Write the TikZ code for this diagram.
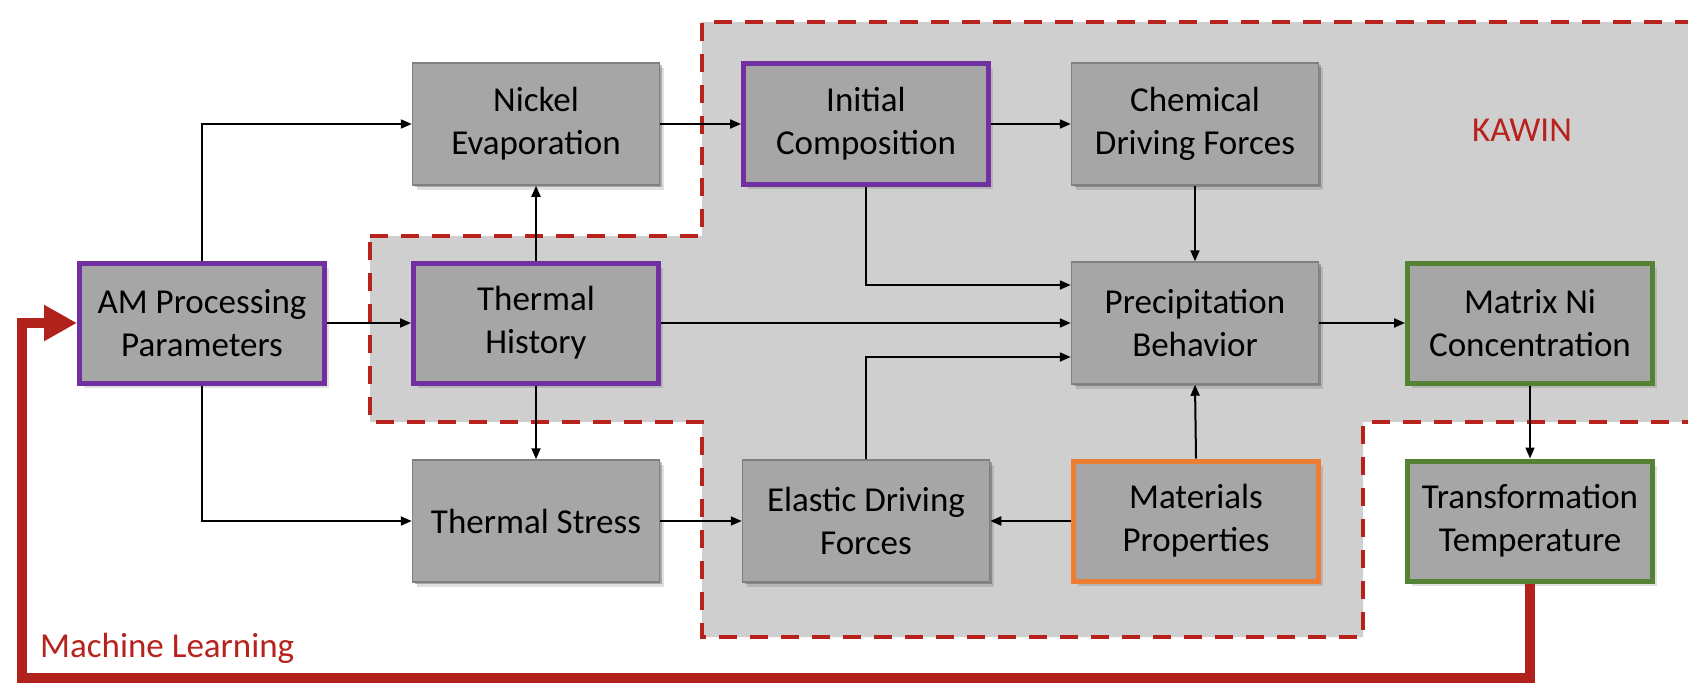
\documentclass[tikz,border=0pt]{standalone}
\usepackage{fontspec}
\setmainfont{Carlito}
\usetikzlibrary{arrows.meta,shadows}

\definecolor{boxgray}{RGB}{166,166,166}
\definecolor{boxedge}{RGB}{128,128,128}
\definecolor{zonegray}{RGB}{208,207,208}
\definecolor{kred}{RGB}{184,34,28}
\definecolor{mlred}{RGB}{178,34,28}
\definecolor{inpurple}{RGB}{112,48,160}
\definecolor{matorange}{RGB}{237,125,49}
\definecolor{outgreen}{RGB}{84,130,53}

\tikzset{
  softshadow/.style={
    drop shadow={shadow xshift=2pt,shadow yshift=-2pt,opacity=.25,fill=black},
    drop shadow={shadow xshift=4pt,shadow yshift=-5pt,opacity=.12,fill=black}},
  blk/.style={rectangle, fill=boxgray, draw=boxedge, line width=1.5pt,
    minimum width=247pt, minimum height=122pt, inner sep=0pt, align=center,
    font=\fontsize{35}{43}\selectfont, text=black, softshadow},
  keybox/.style={blk, line width=5pt, minimum width=245pt, minimum height=120pt, draw=#1},
  flow/.style={draw=black, line width=2pt, -{Triangle[length=11pt,width=9pt]}},
  mlline/.style={draw=mlred, line width=10pt, line join=miter,
    -{Triangle[length=33pt,width=34pt]}},
  zone/.style={draw=kred, line width=4pt, dash pattern=on 18pt off 13pt},
  tag/.style={text=kred, font=\fontsize{35}{43}\selectfont, inner sep=0pt},
}

\begin{document}
\begin{tikzpicture}[x=1pt,y=-1pt]
\clip (0,0) rectangle (1688,685);
\fill[white] (0,0) rectangle (1688,685);

% KAWIN region
\fill[zonegray] (370,236) -- (702,236) -- (702,22) -- (1720,22) -- (1720,422)
  -- (1363,422) -- (1363,637) -- (702,637) -- (702,422) -- (370,422) -- cycle;
\draw[zone] (370,236) -- (702,236) -- (702,22) -- (1720,22) -- (1720,422)
  -- (1363,422) -- (1363,637) -- (702,637) -- (702,422) -- (370,422) -- cycle;

% blocks
\node[keybox=inpurple] (am) at (202,323) {AM Processing\\Parameters};
\node[blk] (nickel) at (536,124) {Nickel\\Evaporation};
\node[keybox=inpurple] (hist) at (536,323) {Thermal\\History};
\node[blk] (stress) at (536,521) {Thermal Stress};
\node[keybox=inpurple] (init) at (866,124) {Initial\\Composition};
\node[blk] (chem) at (1195,124) {Chemical\\Driving Forces};
\node[blk] (precip) at (1195,323) {Precipitation\\Behavior};
\node[keybox=outgreen] (matrix) at (1530,323) {Matrix Ni\\Concentration};
\node[blk] (elastic) at (866,521) {Elastic Driving\\Forces};
\node[keybox=matorange] (mat) at (1196,521) {Materials\\Properties};
\node[keybox=outgreen] (trans) at (1530,521) {Transformation\\Temperature};

% labels
\node[tag] (kawin) at (1522,130) {KAWIN};
\node[tag, anchor=base west] (ml) at (40,657) {Machine Learning};

% connectors
\draw[flow] (am.north) |- (nickel.west);
\draw[flow] (am.east) -- (hist.west);
\draw[flow] (am.south) |- (stress.west);
\draw[flow] (hist.north) -- (nickel.south);
\draw[flow] (hist.south) -- (stress.north);
\draw[flow] (nickel.east) -- (init.west);
\draw[flow] (init.east) -- (chem.west);
\draw[flow] (chem.south) -- (precip.north);
\draw[flow] (init.south) |- ([yshift=38pt]precip.west);
\draw[flow] (hist.east) -- (precip.west);
\draw[flow] (elastic.north) |- ([yshift=-34pt]precip.west);
\draw[flow] (stress.east) -- (elastic.west);
\draw[flow] (mat.west) -- (elastic.east);
\draw[flow] (mat.north) -- (precip.south);
\draw[flow] (precip.east) -- (matrix.west);
\draw[flow] (matrix.south) -- (trans.north);

% feedback loop
\coordinate (mlcorner) at (22,678);
\draw[mlline] (trans.south) |- (mlcorner) |- (am.west);
\end{tikzpicture}
\end{document}
